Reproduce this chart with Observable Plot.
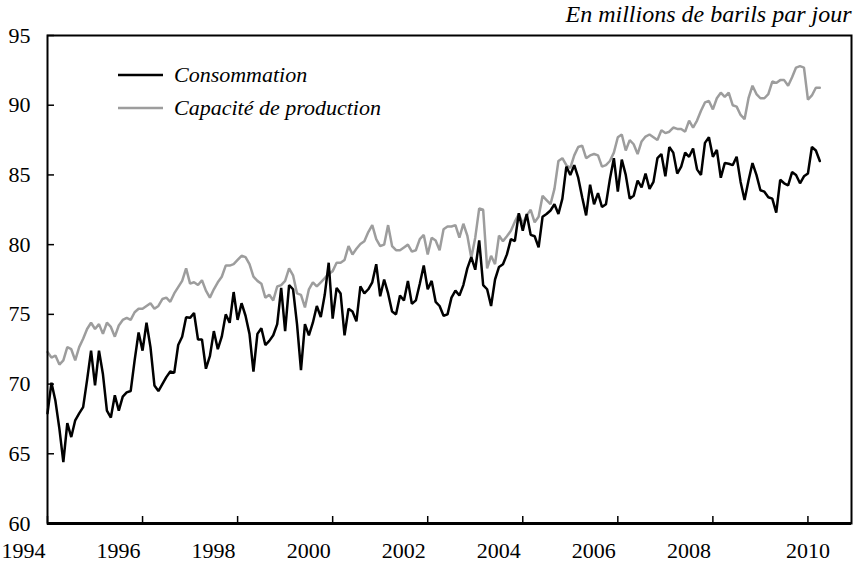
<!DOCTYPE html>
<html>
<head>
<meta charset="utf-8">
<script src="https://cdn.jsdelivr.net/npm/d3@7"></script>
<script src="https://cdn.jsdelivr.net/npm/@observablehq/plot@0.6"></script>
<style>
  body { margin: 0; background: #fff; }
  #wrap { position: relative; width: 855px; height: 572px; font-family: "Liberation Serif", "Times New Roman", serif; }
  #legend { position: absolute; left: 118px; top: 63px; font-style: italic; font-size: 22px; color: #000; }
  .item { display: flex; align-items: center; height: 24px; margin-bottom: 9px; }
  .item svg { margin-right: 10px; }
</style>
</head>
<body>
<div id="wrap"></div>
<script>
const startYear = 1994;
const seriesNames = ["Consommation", "Capacité de production"];
const seriesColors = ["#000000", "#9d9d9d"];
const note = "En millions de barils par jour";
const xTicks = [1994, 1996, 1998, 2000, 2002, 2004, 2006, 2008, 2010];
const yTicks = [60, 65, 70, 75, 80, 85, 90, 95];

// Monthly values, Jan 1994 onwards
const consommation = [
  67.9, 70.1, 68.8, 66.8, 64.4, 67.2, 66.2, 67.4, 67.9, 68.35, 70.3, 72.4,
  69.9, 72.4, 70.7, 68.1, 67.6, 69.2, 68.1, 69.1, 69.4, 69.5, 71.7, 73.7,
  72.4, 74.4, 72.65, 69.9, 69.5, 70.0, 70.5, 70.9, 70.8, 72.8, 73.4, 74.8,
  74.75, 75.1, 73.2, 73.2, 71.1, 72.0, 73.8, 72.5, 73.4, 75.0, 74.4, 76.6,
  74.6, 75.8, 74.9, 73.6, 70.9, 73.6, 74.0, 72.8, 73.1, 73.5, 74.3, 76.9,
  73.8, 77.1, 76.8, 74.3, 71.0, 74.3, 73.5, 74.4, 75.6, 74.8, 76.4, 78.7,
  74.7, 76.9, 76.5, 73.5, 75.4, 75.2, 74.5, 77.0, 76.5, 76.8, 77.3, 78.6,
  76.3, 77.5, 76.5, 75.2, 75.0, 76.35, 76.0, 77.4, 75.75, 76.0, 77.2, 78.5,
  76.8, 77.4, 75.9, 75.6, 74.9, 75.0, 76.2, 76.7, 76.35, 77.1, 78.3, 79.1,
  78.2, 80.3, 77.1, 76.8, 75.6, 77.5, 78.4, 78.6, 79.3, 80.4, 80.25, 82.25,
  81.0, 82.2, 80.7, 80.6, 79.8, 82.0, 82.2, 82.45, 82.9, 82.2, 83.3, 85.6,
  85.0, 85.7, 84.8, 83.4, 82.1, 84.3, 82.9, 83.7, 82.7, 82.9, 84.7, 86.2,
  83.8, 86.1, 85.0, 83.3, 83.5, 84.6, 84.1, 85.1, 84.0, 84.5, 86.2, 86.5,
  84.9, 87.0, 86.6, 85.1, 85.6, 86.6, 86.3, 86.9, 85.4, 85.0, 87.3, 87.7,
  86.3, 86.8, 84.8, 85.85, 85.8, 85.7, 86.3, 84.5, 83.2, 84.6, 85.85, 85.0,
  83.9, 83.8, 83.4, 83.3, 82.3, 84.65, 84.4, 84.25, 85.2, 85.0, 84.4, 84.9,
  85.1, 87.0, 86.75, 86.0
];
const capacite = [
  72.3, 71.9, 72.05, 71.4, 71.7, 72.65, 72.5, 71.7, 72.65, 73.25, 73.95, 74.4,
  73.95, 74.3, 73.6, 74.4, 74.1, 73.4, 74.2, 74.6, 74.75, 74.6, 75.15, 75.4,
  75.4, 75.6, 75.8, 75.4, 75.6, 76.1, 76.2, 75.9, 76.5, 76.95, 77.4, 78.3,
  77.2, 77.3, 77.1, 77.45, 76.7, 76.2, 76.8, 77.3, 77.7, 78.5, 78.5, 78.6,
  78.9, 79.2, 79.1, 78.6, 77.7, 77.4, 77.2, 76.2, 76.4, 76.0, 77.0, 77.1,
  77.4, 78.3, 77.8, 76.5, 76.4, 75.5, 76.8, 77.3, 77.0, 77.3, 77.6, 77.9,
  78.1, 78.7, 78.7, 78.9, 79.9, 79.3, 79.7, 80.05, 80.25, 80.9, 81.4, 80.4,
  79.9, 80.0, 81.4, 79.9, 79.6, 79.6, 79.8, 80.0, 79.5, 79.6, 80.4, 80.7,
  79.3, 80.5, 80.3, 79.6, 81.1, 81.3, 81.3, 81.4, 80.5, 81.5, 80.65, 79.05,
  80.5, 82.6, 82.5, 78.3, 79.2, 78.6, 80.65, 80.25, 80.6, 81.0, 81.65, 82.2,
  81.5, 82.1, 82.5, 81.6, 82.0, 83.5, 83.2, 82.9, 84.0, 86.0, 86.2, 85.7,
  85.5, 86.4, 87.0, 87.1, 86.2, 86.4, 86.5, 86.4, 85.6, 85.7, 86.0, 86.6,
  87.7, 87.9, 86.75, 87.5, 87.2, 86.5, 87.4, 87.75, 87.9, 87.7, 87.5, 88.2,
  88.0, 88.1, 88.4, 88.3, 88.3, 88.1, 88.9, 88.4, 88.9, 89.6, 90.2, 90.3,
  89.7, 90.5, 90.9, 90.6, 90.9, 90.0, 89.9, 89.3, 89.0, 90.5, 91.4, 90.8,
  90.5, 90.5, 90.8, 91.7, 91.6, 91.8, 91.8, 91.4, 92.0, 92.7, 92.8, 92.7,
  90.4, 90.7, 91.25, 91.25
];

const toRows = (arr, name) => arr.map((v, i) => ({ t: startYear + i / 12, v, s: name }));
const rowsCons = toRows(consommation, seriesNames[0]);
const rowsCap = toRows(capacite, seriesNames[1]);

const W = 855, H = 572, mL = 47, mR = 4, mT = 35, mB = 49;
const innerW = W - mL - mR, innerH = H - mT - mB;
const tickLen = 7;

const chart = Plot.plot({
  width: W, height: H,
  marginLeft: mL, marginRight: mR, marginTop: mT, marginBottom: mB,
  style: { fontFamily: "'Liberation Serif', 'Times New Roman', serif", fontSize: "22px", background: "white", color: "black", overflow: "visible" },
  x: { domain: [1994, 2010 + 11 / 12], label: null },
  y: { domain: [60, 95], label: null },
  marks: [
    Plot.line(rowsCap, { x: "t", y: "v", stroke: seriesColors[1], strokeWidth: 2.5, strokeLinejoin: "miter" }),
    Plot.line(rowsCons, { x: "t", y: "v", stroke: seriesColors[0], strokeWidth: 2.5, strokeLinejoin: "miter" }),
    Plot.frame({ stroke: "black", strokeWidth: 2 }),
    Plot.ruleY([60], { stroke: "black", strokeWidth: 3 }),
    Plot.tickX(xTicks, { x: d => d, insetTop: innerH - tickLen, stroke: "black", strokeWidth: 1.5 }),
    Plot.tickY(yTicks, { y: d => d, insetRight: innerW - tickLen, stroke: "black", strokeWidth: 1.5 }),
    Plot.axisX(xTicks.slice(0, -1), { tickSize: 0, tickPadding: 19, tickFormat: "d", fontSize: 22, dx: -24, label: null }),
    Plot.axisX(xTicks.slice(-1), { tickSize: 0, tickPadding: 19, tickFormat: "d", fontSize: 22, label: null }),
    Plot.axisY(yTicks, { tickSize: 0, tickPadding: 17, tickFormat: "d", fontSize: 22, label: null }),
    Plot.text([note], { frameAnchor: "top-right", textAnchor: "end", dy: -31, fontStyle: "italic", fontSize: 24 })
  ]
});

const wrap = document.getElementById("wrap");
wrap.appendChild(chart);

const legend = document.createElement("div");
legend.id = "legend";
seriesNames.forEach((name, i) => {
  const item = document.createElement("div");
  item.className = "item";
  item.innerHTML = `<svg width="46" height="24"><line x1="0" x2="45" y1="12" y2="12" stroke="${seriesColors[i]}" stroke-width="2.5"/></svg><span>${name}</span>`;
  legend.appendChild(item);
});
wrap.appendChild(legend);
</script>
</body>
</html>
